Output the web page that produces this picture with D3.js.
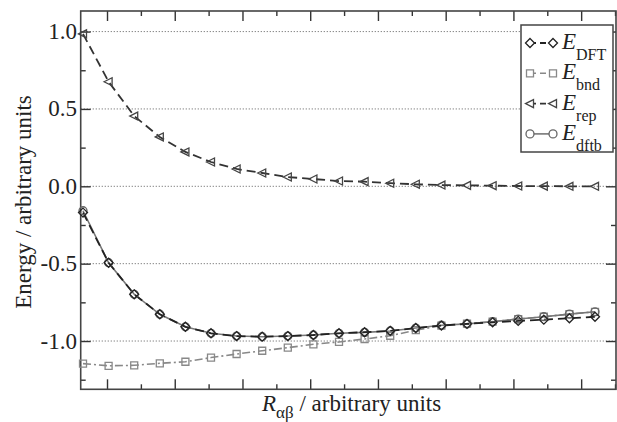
<!DOCTYPE html>
<html>
<head>
<meta charset="utf-8">
<style>
  body { margin: 0; background: #fff; }
  text { font-family: "Liberation Serif", "DejaVu Serif", serif; fill: #222; }
</style>
</head>
<body>
<div id="chart"></div>
<script src="https://cdn.jsdelivr.net/npm/d3@7"></script>
<script>
var W = 617, H = 422;

// bond length (angstrom), 21 points
var R = [0.7, 0.8, 0.9, 1.0, 1.1, 1.2, 1.3, 1.4, 1.5, 1.6, 1.7,
         1.8, 1.9, 2.0, 2.1, 2.2, 2.3, 2.4, 2.5, 2.6, 2.7];

var eDFT  = [-0.170, -0.494, -0.698, -0.827, -0.908, -0.950, -0.968, -0.972, -0.968, -0.961, -0.950,
             -0.943, -0.934, -0.916, -0.900, -0.889, -0.879, -0.870, -0.862, -0.853, -0.843];
var eBnd  = [-1.146, -1.160, -1.157, -1.144, -1.134, -1.107, -1.084, -1.063, -1.043, -1.021, -1.006,
             -0.987, -0.966, -0.930, -0.900, -0.888, -0.874, -0.858, -0.843, -0.826, -0.811];
var eRep  = [0.985, 0.676, 0.454, 0.319, 0.222, 0.157, 0.112, 0.086, 0.060, 0.047, 0.034,
             0.030, 0.020, 0.013, 0.008, 0.006, 0.004, 0.002, 0.001, 0.000, 0.000];
var eDftb = [-0.158, -0.494, -0.698, -0.827, -0.908, -0.950, -0.968, -0.972, -0.968, -0.961, -0.950,
             -0.944, -0.935, -0.916, -0.898, -0.889, -0.875, -0.858, -0.843, -0.826, -0.811];

var yTicks = [1.0, 0.5, 0.0, -0.5, -1.0];
var yMinor = [0.75, 0.25, -0.25, -0.75, -1.25];
var bohr = 0.529177;
// x ticks every 0.25 bohr, majors every 0.5 bohr
var xTicksBohr = [1.5, 1.75, 2.0, 2.25, 2.5, 2.75, 3.0, 3.25, 3.5, 3.75, 4.0, 4.25, 4.5, 4.75, 5.0, 5.25];

var pL = 80.7, pR = 616, pT = 11, pB = 389.3;

var svg = d3.select("#chart").append("svg").attr("width", W).attr("height", H);

var x = d3.scaleLinear().domain([0.691, 2.782]).range([pL, pR]);
var y = d3.scaleLinear().domain([-1.312, 1.133]).range([pB, pT]);

// dotted grid
svg.selectAll("line.grid").data(yTicks).enter().append("line")
     .attr("class", "grid")
     .attr("x1", pL).attr("x2", pR)
     .attr("y1", function (d) { return y(d); })
     .attr("y2", function (d) { return y(d); })
     .attr("stroke", "#777").attr("stroke-width", 1)
     .attr("stroke-dasharray", "1.2,1.8");

// axes: inward ticks on all four sides
var xMajor = xTicksBohr.filter(function (d) { return d % 0.5 === 0; }).map(function (d) { return d * bohr; });
var xMin = xTicksBohr.filter(function (d) { return d % 0.5 !== 0; }).map(function (d) { return d * bohr; });

function addAxis(axisFn, scale, vals, size, tr) {
     var g = svg.append("g").attr("transform", tr)
          .call(axisFn(scale).tickValues(vals).tickSizeInner(size).tickSizeOuter(0).tickFormat(""));
     g.select(".domain").remove();
     g.selectAll(".tick line").attr("stroke", "#333").attr("stroke-width", 1.4);
     return g;
}
addAxis(d3.axisBottom, x, xMajor, -10, "translate(0," + pB + ")");
addAxis(d3.axisBottom, x, xMin, -5, "translate(0," + pB + ")");
addAxis(d3.axisTop, x, xMajor, -10, "translate(0," + pT + ")");
addAxis(d3.axisTop, x, xMin, -5, "translate(0," + pT + ")");
addAxis(d3.axisLeft, y, yTicks, -10, "translate(" + pL + ",0)");
addAxis(d3.axisLeft, y, yMinor, -5, "translate(" + pL + ",0)");
addAxis(d3.axisRight, y, yTicks, -10, "translate(" + pR + ",0)");
addAxis(d3.axisRight, y, yMinor, -5, "translate(" + pR + ",0)");

// frame
svg.append("rect").attr("x", pL).attr("y", pT)
     .attr("width", pR - pL).attr("height", pB - pT)
     .attr("fill", "none").attr("stroke", "#444").attr("stroke-width", 1.6);

// y tick labels
svg.selectAll("text.ylab").data(yTicks).enter().append("text")
     .attr("class", "ylab")
     .attr("x", 77).attr("y", function (d) { return y(d) + 7.5; })
     .attr("text-anchor", "end").attr("font-size", 23)
     .text(function (d) { return d3.format(".1f")(d).replace("\u2212", "-"); });

// series
var series = [
     { name: "rep", vals: eRep, color: "#333", dash: "9,5", width: 1.8, marker: "tri", mstroke: "#444" },
     { name: "bnd", vals: eBnd, color: "#888", dash: "8,3,2,3", width: 1.6, marker: "sq", mstroke: "#888" },
     { name: "dftb", vals: eDftb, color: "#777", dash: null, width: 1.6, marker: "circ", mstroke: "#666" },
     { name: "DFT", vals: eDFT, color: "#222", dash: "9,5", width: 1.8, marker: "dia", mstroke: "#222" }
];

var line = d3.line().x(function (d) { return x(d[0]); }).y(function (d) { return y(d[1]); });

series.forEach(function (s) {
     svg.append("path")
          .datum(R.map(function (r, i) { return [r, s.vals[i]]; }))
          .attr("d", line)
          .attr("fill", "none").attr("stroke", s.color).attr("stroke-width", s.width)
          .attr("stroke-dasharray", s.dash);
});

function markerPath(type) {
     if (type === "tri") return "M-4.5,0L3.5,-4L3.5,4Z";
     if (type === "sq") return "M-3.5,-3.5H3.5V3.5H-3.5Z";
     if (type === "dia") return "M0,-4.5L4.5,0L0,4.5L-4.5,0Z";
     return d3.symbol().type(d3.symbolCircle).size(50)();
}

series.forEach(function (s) {
     svg.append("g").selectAll("path")
          .data(R.map(function (r, i) { return [r, s.vals[i]]; }))
          .enter().append("path")
          .attr("d", markerPath(s.marker))
          .attr("transform", function (d) { return "translate(" + x(d[0]) + "," + y(d[1]) + ")"; })
          .attr("fill", "none").attr("stroke", s.mstroke).attr("stroke-width", 1.3);
});

// legend
var legend = svg.append("g");
legend.append("rect").attr("x", 521).attr("y", 25).attr("width", 92).attr("height", 127)
     .attr("fill", "#fff").attr("stroke", "#444").attr("stroke-width", 1.5);

var legendItems = [
     { s: series[3], sub: "DFT" },
     { s: series[1], sub: "bnd" },
     { s: series[0], sub: "rep" },
     { s: series[2], sub: "dftb" }
];
legendItems.forEach(function (it, i) {
     var ly = 43 + i * 30.3;
     legend.append("line").attr("x1", 530).attr("x2", 553).attr("y1", ly).attr("y2", ly)
          .attr("stroke", it.s.color).attr("stroke-width", it.s.width)
          .attr("stroke-dasharray", it.s.dash ? "6,4" : null);
     [530, 553].forEach(function (mx) {
          legend.append("path").attr("d", markerPath(it.s.marker))
               .attr("transform", "translate(" + mx + "," + ly + ")")
               .attr("fill", "#fff").attr("stroke", it.s.mstroke).attr("stroke-width", 1.3);
     });
     var t = legend.append("text").attr("x", 562).attr("y", ly + 6).attr("font-size", 23);
     t.append("tspan").attr("font-style", "italic").text("E");
     t.append("tspan").attr("font-size", 16).attr("dy", 11).text(it.sub);
});

// axis titles
var xt = svg.append("text").attr("x", 262).attr("y", 411).attr("font-size", 23);
xt.append("tspan").attr("font-style", "italic").text("R");
xt.append("tspan").attr("font-size", 17).attr("dy", 7).text("\u03b1\u03b2");
xt.append("tspan").attr("dy", -7).text(" / arbitrary units");

svg.append("text")
     .attr("transform", "translate(31,202) rotate(-90)")
     .attr("text-anchor", "middle").attr("font-size", 23)
     .text("Energy / arbitrary units");
</script>
</body>
</html>
